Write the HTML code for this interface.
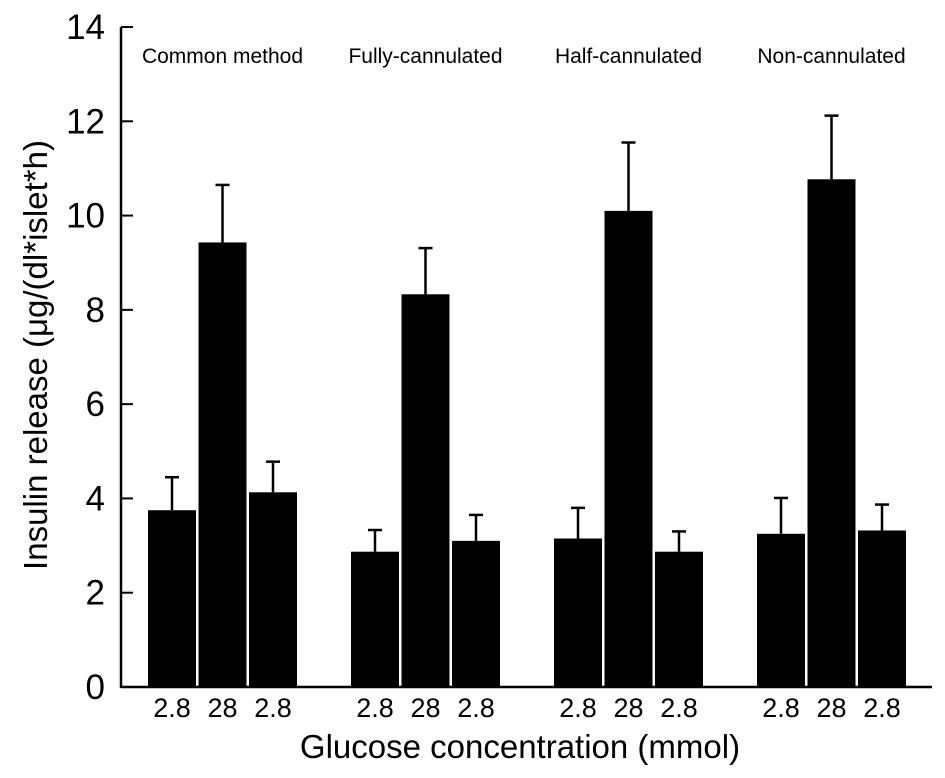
<!DOCTYPE html>
<html><head><meta charset="utf-8"><style>
html,body{margin:0;padding:0;background:#fff;}
svg text{font-family:"Liberation Sans",Arial,sans-serif;fill:#000;}
</style></head><body>
<svg id="chart" width="945" height="773" viewBox="0 0 945 773"></svg>
<script>
const groups = ["Common method","Fully-cannulated","Half-cannulated","Non-cannulated"];
const barLabels = ["2.8","28","2.8"];
const means = [[3.75,9.43,4.13],[2.87,8.33,3.10],[3.15,10.10,2.87],[3.25,10.77,3.32]];
const errTops = [[4.45,10.65,4.78],[3.33,9.31,3.65],[3.80,11.55,3.30],[4.01,12.12,3.87]];
const yTicks = [0,2,4,6,8,10,12,14];

const svg = document.getElementById('chart');
const NS = 'http://www.w3.org/2000/svg';
const x0 = 121, y0 = 687, yTop = 27, yMax = 14;
const y = v => y0 - (y0 - yTop) * v / yMax;
const groupStart = 148, groupStep = 203, barW = 48, barGap = 2.5;
const xBar = (g,b) => groupStart + g*groupStep + b*(barW+barGap);
function mk(tag, attrs){const e=document.createElementNS(NS,tag);for(const k in attrs)e.setAttribute(k,attrs[k]);svg.appendChild(e);return e;}

let a = mk('line',{x1:x0,y1:yTop,x2:x0,y2:y0+1,stroke:'#000','stroke-width':2.5});


a = mk('line',{x1:x0,y1:y0,x2:932,y2:y0,stroke:'#000','stroke-width':2.5});



yTicks.forEach(t=>{
  const tk = mk('line',{x1:x0,y1:y(t),x2:x0+12,y2:y(t),stroke:'#000','stroke-width':2});
  
  
  const tl = mk('text',{x:x0-16,y:y(t)+12,'font-size':35,'text-anchor':'end'});
  tl.textContent = t;
  
  
});

groups.forEach((gname,g)=>{
  const gt = mk('text',{x:xBar(g,1)+barW/2,y:63,'font-size':21,'text-anchor':'middle'});
  gt.textContent = gname;
  
  
  means[g].forEach((v,b)=>{
    const bx = xBar(g,b), cx = bx + barW/2;
    const r = mk('rect',{x:bx,y:y(v),width:barW,height:y0-y(v),fill:'#000'});
    
    
    const e = mk('line',{x1:cx,y1:y(errTops[g][b]),x2:cx,y2:y(v),stroke:'#000','stroke-width':2.5});
    
    
    const c = mk('line',{x1:cx-7,y1:y(errTops[g][b]),x2:cx+7,y2:y(errTops[g][b]),stroke:'#000','stroke-width':2.5});
    
    
    const l = mk('text',{x:cx,y:717,'font-size':27,'text-anchor':'middle'});
    l.textContent = barLabels[b];
    
    
  });
});

let t = mk('text',{x:520,y:758,'font-size':33,'text-anchor':'middle'});
t.textContent = 'Glucose concentration (mmol)';


t = mk('text',{x:0,y:0,'font-size':33,'text-anchor':'middle',transform:'translate(47,355) rotate(-90)'});
t.textContent = 'Insulin release (μg/(dl*islet*h)';


</script>
</body></html>
